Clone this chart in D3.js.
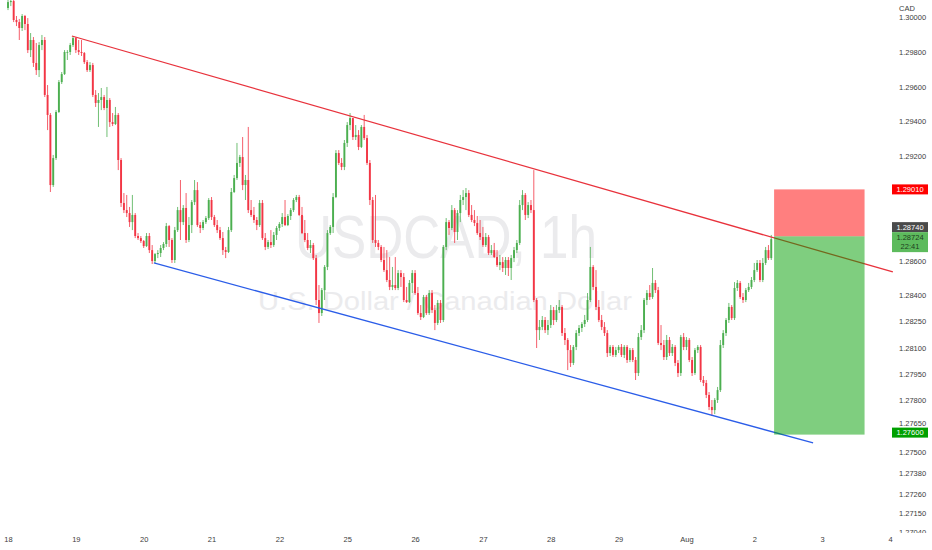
<!DOCTYPE html>
<html><head><meta charset="utf-8">
<script src="https://cdnjs.cloudflare.com/ajax/libs/d3/7.8.5/d3.min.js"></script>
<style>html,body{margin:0;padding:0;background:#fff;}svg{display:block;font-family:"Liberation Sans",Arial,sans-serif;}</style>
</head><body><svg id="chart" width="932" height="550"></svg>
<script>
// ---- data ----
const symbol = "USDCAD, 1h";
const symbolName = "U.S. Dollar / Canadian Dollar";
const currency = "CAD";
const dayLabels = ["18","19","20","21","22","25","26","27","28","29","Aug","2","3","4"];
const hoursPerDay = 24;
const priceTicks = [1.30000,1.29800,1.29600,1.29400,1.29200,1.28600,1.28400,1.28250,1.28100,1.27950,1.27800,1.27650,1.27500,1.27380,1.27260,1.27150,1.27040];
const firstOpen = 1.30053;
const closes = [1.30087,1.30093,1.29984,1.29972,1.29938,1.30007,1.29961,1.29811,1.29869,1.29737,1.29696,1.29840,1.29869,1.29553,1.29438,1.29035,1.29190,1.29455,1.29627,1.29673,
1.29800,1.29800,1.29840,1.29880,1.29811,1.29800,1.29794,1.29742,1.29696,1.29725,1.29553,1.29507,1.29524,1.29541,1.29478,1.29524,1.29397,1.29386,1.29438,1.29179,
1.28932,1.28891,1.28874,1.28822,1.28863,1.28742,1.28730,1.28713,1.28684,1.28742,1.28661,1.28598,1.28638,1.28644,1.28673,1.28696,1.28799,1.28719,1.28604,1.28776,
1.28891,1.28822,1.28903,1.28719,1.28805,1.28937,1.29006,1.28805,1.28788,1.28822,1.28845,1.28949,1.28851,1.28805,1.28776,1.28730,1.28661,1.28650,1.28776,1.28995,
1.29075,1.29162,1.29196,1.29035,1.29064,1.28891,1.28863,1.28834,1.28805,1.28932,1.28730,1.28679,1.28707,1.28690,1.28748,1.28788,1.28811,1.28851,1.28805,1.28857,
1.28891,1.28949,1.28966,1.28863,1.28759,1.28719,1.28673,1.28690,1.28615,1.28374,1.28299,1.28431,1.28564,1.28759,1.28794,1.28966,1.29219,1.29162,1.29139,1.29277,
1.29380,1.29420,1.29311,1.29323,1.29254,1.29369,1.29305,1.29162,1.28949,1.28719,1.28702,1.28679,1.28604,1.28546,1.28489,1.28449,1.28460,1.28443,1.28529,1.28506,
1.28374,1.28362,1.28472,1.28529,1.28414,1.28299,1.28276,1.28391,1.28299,1.28414,1.28316,1.28242,1.28357,1.28259,1.28679,1.28822,1.28788,1.28891,1.28765,1.28874,
1.28949,1.28966,1.28989,1.28863,1.28834,1.28817,1.28759,1.28736,1.28690,1.28736,1.28644,1.28661,1.28621,1.28575,1.28592,1.28558,1.28604,1.28558,1.28615,1.28661,
1.28702,1.28920,1.28978,1.28863,1.28920,1.28891,1.28374,1.28201,1.28219,1.28259,1.28201,1.28230,1.28316,1.28259,1.28316,1.28334,1.28184,1.28144,1.28086,1.28012,
1.28104,1.28184,1.28213,1.28236,1.28259,1.28374,1.28564,1.28449,1.28334,1.28259,1.28219,1.28184,1.28069,1.28104,1.28058,1.28086,1.28104,1.28058,1.28104,1.28029,
1.28086,1.28029,1.27954,1.28161,1.28201,1.28374,1.28414,1.28391,1.28472,1.28431,1.28127,1.28115,1.28046,1.28144,1.28069,1.28104,1.28012,1.27954,1.28161,1.28104,
1.28144,1.28029,1.27954,1.28086,1.28104,1.27914,1.27897,1.27828,1.27759,1.27741,1.27799,1.27856,1.28115,1.28184,1.28259,1.28334,1.28270,1.28443,1.28472,1.28391,
1.28374,1.28431,1.28449,1.28489,1.28546,1.28587,1.28489,1.28587,1.28661,1.28615,1.28724];
const highs = [1.30099,1.30099,1.30099,1.30007,1.29990,1.30018,1.30013,1.29995,1.29909,1.29886,1.29852,1.29857,1.29898,1.29886,1.29610,1.29449,1.29208,1.29466,1.29639,1.29685,
1.29811,1.29811,1.29852,1.29892,1.29886,1.29869,1.29869,1.29800,1.29754,1.29742,1.29737,1.29581,1.29564,1.29593,1.29553,1.29599,1.29535,1.29449,1.29484,1.29449,
1.29190,1.28989,1.28978,1.28909,1.28978,1.28874,1.28759,1.28742,1.28719,1.28759,1.28759,1.28690,1.28644,1.28661,1.28690,1.28707,1.28817,1.28805,1.28730,1.28794,
1.28909,1.29064,1.28920,1.28989,1.28851,1.28949,1.29064,1.29052,1.28822,1.28834,1.28857,1.28960,1.28966,1.28863,1.28834,1.28794,1.28765,1.28679,1.28794,1.29018,
1.29093,1.29277,1.29208,1.29311,1.29093,1.29369,1.28949,1.28909,1.28851,1.28949,1.28949,1.28759,1.28719,1.28776,1.28765,1.28799,1.28822,1.28874,1.28949,1.28868,
1.28903,1.28960,1.28978,1.28978,1.28909,1.28834,1.28759,1.28719,1.28702,1.28633,1.28460,1.28443,1.28575,1.28776,1.28805,1.28989,1.29236,1.29236,1.29190,1.29294,
1.29397,1.29449,1.29420,1.29380,1.29351,1.29380,1.29438,1.29323,1.29179,1.28966,1.28978,1.28719,1.28690,1.28679,1.28661,1.28621,1.28564,1.28621,1.28546,1.28546,
1.28529,1.28449,1.28489,1.28546,1.28546,1.28449,1.28345,1.28403,1.28403,1.28431,1.28431,1.28345,1.28374,1.28374,1.28690,1.28845,1.28834,1.28920,1.28903,1.28891,
1.28978,1.29006,1.29018,1.29006,1.28920,1.28891,1.28857,1.28834,1.28794,1.28759,1.28748,1.28690,1.28702,1.28661,1.28633,1.28621,1.28621,1.28621,1.28633,1.28679,
1.28719,1.28949,1.29006,1.28989,1.28937,1.28949,1.29121,1.28385,1.28259,1.28282,1.28276,1.28259,1.28345,1.28334,1.28345,1.28374,1.28345,1.28213,1.28155,1.28115,
1.28115,1.28201,1.28230,1.28247,1.28288,1.28414,1.28679,1.28575,1.28546,1.28374,1.28288,1.28247,1.28201,1.28115,1.28115,1.28104,1.28115,1.28121,1.28115,1.28115,
1.28098,1.28098,1.28046,1.28184,1.28230,1.28385,1.28431,1.28460,1.28558,1.28489,1.28449,1.28230,1.28144,1.28173,1.28161,1.28121,1.28115,1.28029,1.28173,1.28184,
1.28161,1.28155,1.28046,1.28098,1.28115,1.28115,1.27937,1.27914,1.27845,1.27799,1.27810,1.27874,1.28144,1.28201,1.28270,1.28357,1.28345,1.28477,1.28489,1.28483,
1.28414,1.28443,1.28472,1.28506,1.28587,1.28604,1.28604,1.28615,1.28679,1.28690,1.28748];
const lows = [1.30041,1.30064,1.29972,1.29949,1.29869,1.29921,1.29926,1.29794,1.29771,1.29714,1.29668,1.29656,1.29811,1.29541,1.29351,1.28995,1.29024,1.29179,1.29449,1.29616,
1.29668,1.29754,1.29783,1.29829,1.29794,1.29783,1.29777,1.29731,1.29685,1.29685,1.29541,1.29484,1.29369,1.29466,1.29466,1.29311,1.29369,1.29374,1.29380,1.29121,
1.28909,1.28874,1.28851,1.28794,1.28776,1.28730,1.28719,1.28702,1.28673,1.28679,1.28644,1.28581,1.28587,1.28615,1.28621,1.28661,1.28679,1.28679,1.28587,1.28587,
1.28765,1.28719,1.28805,1.28702,1.28707,1.28759,1.28920,1.28794,1.28759,1.28776,1.28811,1.28834,1.28834,1.28794,1.28759,1.28719,1.28633,1.28615,1.28644,1.28765,
1.28989,1.29064,1.29139,1.29006,1.28949,1.28874,1.28851,1.28817,1.28776,1.28794,1.28719,1.28661,1.28667,1.28673,1.28679,1.28719,1.28771,1.28794,1.28799,1.28799,
1.28834,1.28880,1.28937,1.28857,1.28753,1.28707,1.28661,1.28644,1.28604,1.28345,1.28242,1.28282,1.28374,1.28546,1.28748,1.28759,1.28960,1.29150,1.29121,1.29121,
1.29254,1.29351,1.29294,1.29294,1.29236,1.29248,1.29294,1.29150,1.28920,1.28702,1.28679,1.28661,1.28592,1.28535,1.28477,1.28431,1.28431,1.28431,1.28431,1.28449,
1.28362,1.28357,1.28357,1.28414,1.28403,1.28288,1.28259,1.28270,1.28288,1.28288,1.28299,1.28201,1.28230,1.28242,1.28247,1.28661,1.28748,1.28776,1.28702,1.28719,
1.28822,1.28920,1.28891,1.28851,1.28822,1.28799,1.28748,1.28719,1.28679,1.28679,1.28633,1.28633,1.28615,1.28564,1.28546,1.28535,1.28518,1.28512,1.28489,1.28592,
1.28644,1.28690,1.28891,1.28834,1.28845,1.28874,1.28362,1.28098,1.28144,1.28201,1.28184,1.28173,1.28213,1.28230,1.28247,1.28299,1.28167,1.28115,1.27971,1.27989,
1.28000,1.28086,1.28167,1.28190,1.28219,1.28247,1.28362,1.28431,1.28316,1.28247,1.28201,1.28167,1.28046,1.28052,1.28046,1.28046,1.28069,1.28046,1.28040,1.28012,
1.28017,1.28017,1.27914,1.27937,1.28144,1.28184,1.28345,1.28374,1.28380,1.28414,1.28115,1.28086,1.28029,1.28029,1.28052,1.28052,1.27994,1.27931,1.27937,1.28086,
1.28086,1.28017,1.27937,1.27943,1.28069,1.27902,1.27879,1.27810,1.27741,1.27707,1.27718,1.27782,1.27845,1.28098,1.28167,1.28242,1.28259,1.28259,1.28426,1.28380,
1.28357,1.28362,1.28420,1.28437,1.28477,1.28535,1.28477,1.28477,1.28575,1.28604,1.28604];
const currentPrice = 1.28724;
const countdown = "22:41";
const entryPrice = 1.28740;
const stopPrice = 1.29010;
const targetPrice = 1.27600;
const positionHours = [271, 303];
const resistanceLine = [[22.6, 1.29892], [313, 1.28535]];
const supportLine = [[51.6, 1.28587], [284.8, 1.27552]];

// ---- layout ----
const W = 932, H = 550, paneRight = 893, paneBottom = 535, axisBottom = 533;
const svg = d3.select("#chart");
svg.append("rect").attr("width", W).attr("height", H).attr("fill", "#fff");

const x = d3.scaleLinear().domain([0, (dayLabels.length - 1) * hoursPerDay]).range([8, 890]);
const y = d3.scaleLinear().domain([1.29800, 1.27040]).range([52, 532]);

const defs = svg.append("defs");
defs.append("clipPath").attr("id", "pane").append("rect").attr("x", 0).attr("y", 0).attr("width", paneRight).attr("height", paneBottom);
defs.append("clipPath").attr("id", "axisclip").append("rect").attr("x", paneRight).attr("y", 0).attr("width", W - paneRight).attr("height", axisBottom);

const pane = svg.append("g").attr("clip-path", "url(#pane)");

// watermark
pane.append("text").attr("x", 446).attr("y", 258).attr("text-anchor", "middle")
  .attr("font-size", 62).attr("fill", "#ebebed")
  .attr("textLength", 302).attr("lengthAdjust", "spacingAndGlyphs").text(symbol);
pane.append("text").attr("x", 445).attr("y", 310).attr("text-anchor", "middle")
  .attr("font-size", 25).attr("fill", "#ebebed")
  .attr("textLength", 374).attr("lengthAdjust", "spacingAndGlyphs").text(symbolName);

// candles
const candles = closes.map((c, i) => {
  const o = i === 0 ? firstOpen : closes[i - 1];
  return {t: i, o, c, h: Math.max(highs[i], o, c), l: Math.min(lows[i], o, c)};
});
const up = "#4caf50", down = "#f23645";
const cg = pane.append("g");
cg.selectAll("line").data(candles).join("line")
  .attr("x1", d => x(d.t)).attr("x2", d => x(d.t))
  .attr("y1", d => y(d.h)).attr("y2", d => y(d.l))
  .attr("stroke", d => d.c >= d.o ? up : down).attr("stroke-width", 0.8);
cg.selectAll("rect").data(candles).join("rect")
  .attr("x", d => x(d.t) - 0.95).attr("width", 1.9)
  .attr("y", d => y(Math.max(d.o, d.c)))
  .attr("height", d => Math.max(0.8, Math.abs(y(d.o) - y(d.c))))
  .attr("fill", d => d.c >= d.o ? up : down);

// trend lines
const line = d3.line().x(d => x(d[0])).y(d => y(d[1]));
pane.append("path").datum(resistanceLine).attr("d", line).attr("stroke", "#e8323c").attr("stroke-width", 1.3).attr("fill", "none");
pane.append("path").datum(supportLine).attr("d", line).attr("stroke", "#2b5de8").attr("stroke-width", 1.3).attr("fill", "none");

// position (short) box
pane.append("rect").attr("x", x(positionHours[0])).attr("width", x(positionHours[1]) - x(positionHours[0]))
  .attr("y", y(stopPrice)).attr("height", y(entryPrice) - y(stopPrice)).attr("fill", "rgba(255,0,0,0.5)");
pane.append("rect").attr("x", x(positionHours[0])).attr("width", x(positionHours[1]) - x(positionHours[0]))
  .attr("y", y(entryPrice)).attr("height", y(targetPrice) - y(entryPrice)).attr("fill", "rgba(0,158,0,0.5)");

// price label boxes (positions derived from the scale)
const fmt = d3.format(".5f");
const curTop = y(currentPrice) - 7;
const labelBoxes = [
  {top: y(stopPrice) - 5, h: 10, fill: "#ff0000", lines: [fmt(stopPrice)], color: "#fff"},
  {top: curTop - 10, h: 10, fill: "#4a4a4a", lines: [fmt(entryPrice)], color: "#fff"},
  {top: curTop, h: 20, fill: "#5dbb5d", lines: [fmt(currentPrice), countdown], color: "#1d3f1d"},
  {top: y(targetPrice) - 7, h: 10, fill: "#00a000", lines: [fmt(targetPrice)], color: "#fff"}
];

// axes
const yAxisG = svg.append("g").attr("clip-path", "url(#axisclip)")
  .append("g").attr("transform", `translate(${paneRight + 5},0)`)
  .call(d3.axisRight(y).tickValues(priceTicks).tickFormat(fmt).tickSize(0).tickPadding(1));
yAxisG.select(".domain").remove();
yAxisG.selectAll("text").attr("font-size", 7.5).attr("fill", "#3c3c3c").attr("font-family", "Liberation Sans, Arial, sans-serif");
// push tick labels that sit under a price label just above it
yAxisG.selectAll(".tick").each(function(d) {
  const ty = y(d);
  labelBoxes.forEach(b => {
    if (ty > b.top - 4 && ty < b.top + b.h + 4 && ty < b.top + b.h / 2) {
      d3.select(this).select("text").attr("y", (b.top - 4.6) - ty);
    }
  });
});

const xAxisG = svg.append("g").attr("transform", `translate(0,${paneBottom})`)
  .call(d3.axisBottom(x).tickValues(dayLabels.map((d, i) => i * hoursPerDay)).tickFormat((d, i) => dayLabels[i]).tickSize(0).tickPadding(2));
xAxisG.select(".domain").remove();
xAxisG.selectAll("text").attr("font-size", 7.5).attr("fill", "#3c3c3c").attr("font-family", "Liberation Sans, Arial, sans-serif");

// currency label
svg.append("rect").attr("x", paneRight + 1).attr("y", 0).attr("width", W - paneRight).attr("height", 13).attr("fill", "#fff");
svg.append("text").attr("x", paneRight + 6).attr("y", 11).attr("font-size", 7.5).attr("fill", "#3c3c3c").text(currency);

// price labels
const lx = paneRight - 1, lw = 36;
labelBoxes.forEach(b => {
  svg.append("rect").attr("x", lx).attr("y", b.top).attr("width", lw).attr("height", b.h).attr("fill", b.fill);
  b.lines.forEach((t, k) => {
    svg.append("text").attr("x", lx + lw / 2).attr("y", b.top + 7.5 + k * 9).attr("text-anchor", "middle")
      .attr("font-size", 7.5).attr("fill", b.color).text(t);
  });
});
</script></body></html>
